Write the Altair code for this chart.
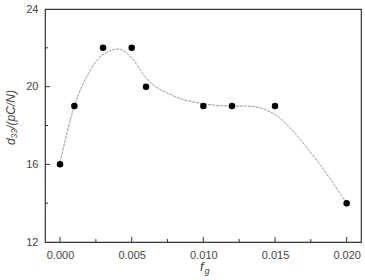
import altair as alt
import pandas as pd

# measured points
fg = [0.000, 0.001, 0.003, 0.005, 0.006, 0.010, 0.012, 0.015, 0.020]
d33 = [16, 19, 22, 22, 20, 19, 19, 19, 14]

# fitted curve
curve_x = [0.000, 0.001, 0.002, 0.003, 0.0041, 0.005, 0.006, 0.008, 0.010, 0.012, 0.013, 0.014, 0.015, 0.0175, 0.020]
curve_y = [16.1, 19.0, 20.7, 21.65, 21.94, 21.48, 20.45, 19.5, 19.12, 19.0, 19.0, 18.9, 18.56, 16.6, 14.0]

x_major = [0.000, 0.005, 0.010, 0.015, 0.020]
x_minor = [0.0025, 0.0075, 0.0125, 0.0175]
y_major = [16, 20]
y_minor = [14, 18, 22]

W, H = 316, 233
FONT = "Liberation Sans"
GREY = "#444444"

pts = pd.DataFrame({"x": fg, "y": d33})
crv = pd.DataFrame({"x": curve_x, "y": curve_y})

xs = alt.Scale(domain=[-0.00105, 0.021], nice=False, zero=False)
ys = alt.Scale(domain=[12, 24], nice=False, zero=False)

xaxis = alt.Axis(values=x_major, format=".3f", ticks=False, domain=False, grid=False,
                 labelFont=FONT, labelFontSize=11, labelColor=GREY, labelPadding=7, title=None)
yaxis = alt.Axis(values=[12, 16, 20, 24], ticks=False, domain=False, grid=False,
                 labelFont=FONT, labelFontSize=11, labelColor=GREY, labelPadding=7, title=None)

line = alt.Chart(crv).mark_line(color="#999999", strokeWidth=1, strokeDash=[3, 1], interpolate="monotone").encode(
    x=alt.X("x:Q", scale=xs, axis=xaxis),
    y=alt.Y("y:Q", scale=ys, axis=yaxis),
)
dots = alt.Chart(pts).mark_circle(color="black", size=42, opacity=1).encode(
    x=alt.X("x:Q", scale=xs),
    y=alt.Y("y:Q", scale=ys),
)

xmaj = alt.Chart(pd.DataFrame({"x": x_major})).mark_rule(color="#333", strokeWidth=1).encode(
    x=alt.X("x:Q", scale=xs), y=alt.value(H), y2=alt.value(H - 5))
xmin = alt.Chart(pd.DataFrame({"x": x_minor})).mark_rule(color="#333", strokeWidth=1).encode(
    x=alt.X("x:Q", scale=xs), y=alt.value(H), y2=alt.value(H - 3))
ymaj = alt.Chart(pd.DataFrame({"y": y_major})).mark_rule(color="#333", strokeWidth=1).encode(
    y=alt.Y("y:Q", scale=ys), x=alt.value(0), x2=alt.value(5))
ymin = alt.Chart(pd.DataFrame({"y": y_minor})).mark_rule(color="#333", strokeWidth=1).encode(
    y=alt.Y("y:Q", scale=ys), x=alt.value(0), x2=alt.value(3))

xt_f = alt.Chart(pd.DataFrame({"t": ["f"]})).mark_text(
    font=FONT, fontSize=13, fontStyle="italic", color=GREY, align="left", baseline="alphabetic").encode(
    text="t:N", x=alt.value(155), y=alt.value(H + 29))
xt_g = alt.Chart(pd.DataFrame({"t": ["g"]})).mark_text(
    font=FONT, fontSize=9, fontStyle="italic", color=GREY, align="left", baseline="alphabetic").encode(
    text="t:N", x=alt.value(159.5), y=alt.value(H + 32))
yt = alt.Chart(pd.DataFrame({"t": ["d₃₃/(pC/N)"]})).mark_text(
    font=FONT, fontSize=12, fontStyle="italic", color=GREY, angle=270, align="center", baseline="middle").encode(
    text="t:N", x=alt.value(-34), y=alt.value(H / 2 - 8))

chart = alt.layer(line, dots, xmaj, xmin, ymaj, ymin, xt_f, xt_g, yt).properties(
    width=W, height=H,
    autosize=alt.AutoSizeParams(type="none"),
    padding={"left": 45, "top": 9, "right": 4, "bottom": 38},
).configure_view(stroke="#333333", strokeWidth=1.2)

chart.save("out.html", embed_options={"renderer": "svg", "actions": False})
